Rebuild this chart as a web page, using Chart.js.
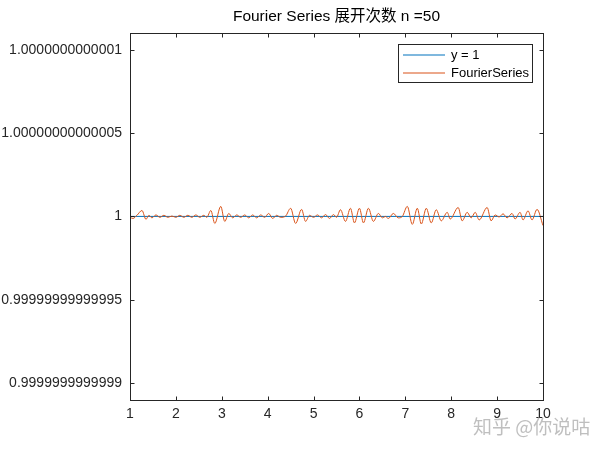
<!DOCTYPE html>
<html>
<head>
<meta charset="utf-8">
<title>Fourier Series</title>
<script src="https://cdn.jsdelivr.net/npm/chart.js@4.4.1/dist/chart.umd.min.js"></script>
<style>
  body { margin: 0; background: #fff; }
  #wrap { width: 600px; height: 450px; }
</style>
</head>
<body>
<div id="wrap"><canvas id="myChart" width="600" height="450"></canvas></div>
<script>
// chart text
var titleText = "Fourier Series 展开次数 n =50";
var watermarkText = "知乎 @你说咕";

// ticks
var xTicks = [1, 2, 3, 4, 5, 6, 7, 8, 9, 10];
var yTicks = [0.9999999999999, 0.99999999999995, 1, 1.00000000000005, 1.0000000000001];
var yTickLabels = ["0.9999999999999", "0.99999999999995", "1", "1.00000000000005", "1.0000000000001"];

// series 1 : y = 1
var lineX = [1, 10];
var lineY = [1, 1];

// series 2 : Fourier series (extrema of the ripple)
var fourierX = [
  1.000, 1.065, 1.152, 1.261, 1.348, 1.413,
  1.478, 1.565, 1.652, 1.739, 1.826, 1.913,
  2.000, 2.087, 2.174, 2.261, 2.348, 2.435,
  2.522, 2.609, 2.674, 2.761, 2.848, 2.978,
  3.065, 3.152, 3.239, 3.326, 3.413, 3.500,
  3.587, 3.674, 3.761, 3.848, 3.935, 4.022,
  4.109, 4.196, 4.283, 4.391, 4.500, 4.609,
  4.739, 4.826, 4.913, 5.000, 5.087, 5.174,
  5.261, 5.348, 5.435, 5.500, 5.587, 5.696,
  5.804, 5.891, 6.000, 6.087, 6.196, 6.304,
  6.413, 6.500, 6.565, 6.630, 6.739, 6.848,
  6.935, 7.043, 7.152, 7.261, 7.348, 7.457,
  7.565, 7.674, 7.783, 7.913, 7.978, 8.152,
  8.239, 8.348, 8.435, 8.522, 8.609, 8.783,
  8.870, 8.957, 9.043, 9.130, 9.217, 9.326,
  9.391, 9.500, 9.565, 9.674, 9.761, 9.870, 10.000
];
var fourierY = [
  0.9999999999999994, 0.9999999999999988, 1.0000000000000006, 1.0000000000000036, 0.9999999999999982, 1.0000000000000006,
  0.9999999999999991, 1.0000000000000009, 0.9999999999999994, 1.0000000000000006, 0.9999999999999994, 1.0000000000000003,
  0.9999999999999994, 1.0000000000000006, 0.9999999999999994, 1.0000000000000006, 0.9999999999999994, 1.0000000000000009,
  0.9999999999999994, 1.0000000000000006, 0.9999999999999994, 1.0000000000000036, 0.9999999999999958, 1.000000000000006,
  0.999999999999997, 1.0000000000000018, 0.9999999999999991, 1.0000000000000009, 0.9999999999999994, 1.0000000000000009,
  0.9999999999999991, 1.0000000000000009, 0.9999999999999991, 1.0000000000000009, 0.9999999999999994, 1.0000000000000018,
  0.9999999999999988, 1.0000000000000006, 0.9999999999999994, 1.0000000000000003, 1.0000000000000048, 0.9999999999999958,
  1.0000000000000042, 0.999999999999997, 1.0000000000000006, 0.9999999999999994, 1.0000000000000009, 0.9999999999999991,
  1.0000000000000012, 0.9999999999999988, 1.0000000000000012, 0.9999999999999994, 1.0000000000000039, 0.999999999999997,
  1.0000000000000048, 0.9999999999999961, 1.0000000000000048, 0.9999999999999961, 1.0000000000000048, 0.999999999999997,
  1.0000000000000018, 0.9999999999999991, 1, 0.9999999999999988, 1.0000000000000018, 0.9999999999999991,
  1, 1.000000000000006, 0.9999999999999952, 1.0000000000000048, 0.9999999999999955, 1.0000000000000048,
  0.9999999999999961, 1.0000000000000039, 0.9999999999999973, 1.0000000000000024, 0.9999999999999985, 1.0000000000000054,
  0.9999999999999973, 1.0000000000000024, 0.9999999999999991, 1.0000000000000024, 0.9999999999999979, 1.0000000000000054,
  0.9999999999999973, 1.0000000000000009, 0.9999999999999997, 1.0000000000000015, 0.9999999999999991, 1.0000000000000018,
  0.9999999999999985, 1.0000000000000024, 0.9999999999999979, 1.0000000000000033, 0.9999999999999979, 1.0000000000000042, 0.9999999999999946
];

var seriesNames = ["y = 1", "FourierSeries"];
var seriesColors = ["#0072BD", "#D95319"];

var axisColor = "#262626";
var labelFont = '"Liberation Sans", Arial, "Noto Sans CJK SC", sans-serif';

function toPoints(xs, ys) {
  var pts = [];
  for (var i = 0; i < xs.length; i++) {
    pts.push({ x: xs[i], y: ys[i] });
  }
  return pts;
}

////////////// matlab look : box, inner ticks, title, legend, watermark //////////////
var matlabAxes = {
  id: "matlabAxes",
  afterDraw: function(chart) {
    var c = chart.ctx;
    var a = chart.chartArea;
    var xs = chart.scales.x;
    var ys = chart.scales.y;
    var L = Math.round(a.left) + 0.5, R = Math.round(a.right) + 0.5;
    var T = Math.round(a.top) + 0.5, B = Math.round(a.bottom) + 0.5;

    c.save();
    c.strokeStyle = axisColor;
    c.lineWidth = 1;
    c.strokeRect(L, T, R - L, B - T);

    c.beginPath();
    for (var i = 0; i < xTicks.length; i++) {
      var px = Math.round(xs.getPixelForValue(xTicks[i])) + 0.5;
      c.moveTo(px, B); c.lineTo(px, B - 4);
      c.moveTo(px, T); c.lineTo(px, T + 4);
    }
    for (var j = 0; j < yTicks.length; j++) {
      var py = Math.round(ys.getPixelForValue(yTicks[j])) + 0.5;
      c.moveTo(L, py); c.lineTo(L + 4, py);
      c.moveTo(R, py); c.lineTo(R - 4, py);
    }
    c.stroke();

    // title centred over the axes
    c.fillStyle = "#000";
    c.font = "15.5px " + labelFont;
    c.textAlign = "center";
    c.textBaseline = "middle";
    c.fillText(titleText, (a.left + a.right) / 2, 17);

    // legend box (north east)
    var bx = 398.5, by = 44.5, bw = 134, bh = 38;
    c.fillStyle = "#fff";
    c.fillRect(bx, by, bw, bh);
    c.strokeStyle = axisColor;
    c.strokeRect(bx, by, bw, bh);
    c.font = "13px " + labelFont;
    c.textAlign = "left";
    for (var k = 0; k < seriesNames.length; k++) {
      var ly = Math.round(by + 10 + k * 18);
      c.strokeStyle = seriesColors[k];
      c.lineWidth = 1.2;
      c.beginPath();
      c.moveTo(403, ly);
      c.lineTo(445, ly);
      c.stroke();
      c.fillStyle = "#000";
      c.fillText(seriesNames[k], 451, ly);
    }

    // watermark
    c.font = '19px "Noto Sans CJK SC", sans-serif';
    c.fillStyle = "rgba(180,180,180,0.85)";
    c.textAlign = "left";
    c.fillText(watermarkText, 473, 427);
    c.restore();
  }
};

var canvas = document.getElementById("myChart");
var myChart = new Chart(canvas, {
  type: "line",
  data: {
    datasets: [{
      label: seriesNames[0],
      data: toPoints(lineX, lineY),
      borderColor: seriesColors[0],
      borderWidth: 1,
      pointRadius: 0,
      fill: false,
      order: 1
    }, {
      label: seriesNames[1],
      data: toPoints(fourierX, fourierY),
      borderColor: seriesColors[1],
      borderWidth: 1,
      pointRadius: 0,
      fill: false,
      cubicInterpolationMode: "monotone",
      order: 0
    }]
  },
  options: {
    responsive: false,
    animation: false,
    devicePixelRatio: 1,
    layout: { padding: { top: 33, right: 57, left: 0, bottom: 0 } },
    plugins: {
      legend: { display: false },
      title: { display: false },
      tooltip: { enabled: false }
    },
    scales: {
      x: {
        type: "linear",
        min: 1,
        max: 10,
        grid: { display: false, drawTicks: false },
        border: { display: false },
        afterBuildTicks: function(scale) {
          scale.ticks = xTicks.map(function(v) { return { value: v }; });
        },
        afterFit: function(scale) { scale.height = 50; },
        ticks: {
          color: axisColor,
          padding: 6,
          maxRotation: 0,
          autoSkip: false,
          font: { family: labelFont, size: 14 },
          callback: function(value) { return String(value); }
        }
      },
      y: {
        type: "linear",
        min: 1 - 1.1e-13,
        max: 1 + 1.1e-13,
        grid: { display: false, drawTicks: false },
        border: { display: false },
        afterBuildTicks: function(scale) {
          scale.ticks = yTicks.map(function(v) { return { value: v }; });
        },
        afterFit: function(scale) { scale.width = 130; },
        ticks: {
          color: axisColor,
          padding: 8,
          autoSkip: false,
          font: { family: labelFont, size: 14 },
          callback: function(value, index) { return yTickLabels[index]; }
        }
      }
    }
  },
  plugins: [matlabAxes]
});
</script>
</body>
</html>
